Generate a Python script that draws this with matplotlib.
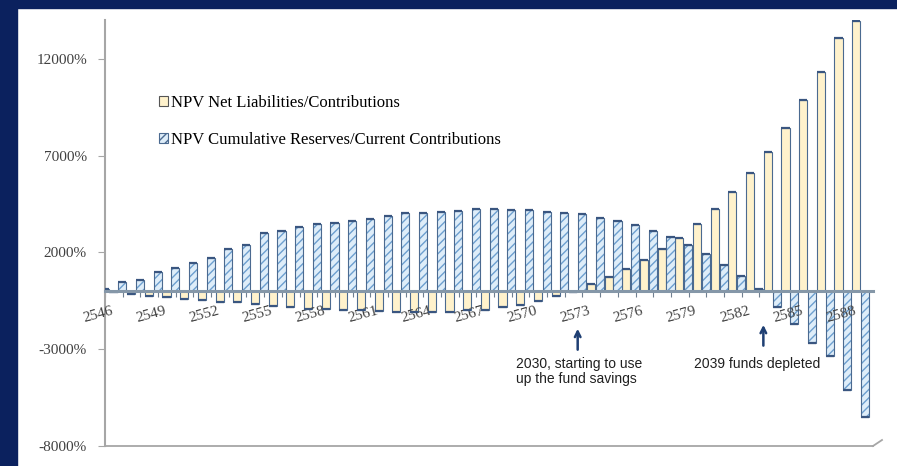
import numpy as np
import matplotlib
matplotlib.use("Agg")
import matplotlib.pyplot as plt
from matplotlib.patches import Patch, Rectangle
from matplotlib.lines import Line2D

# Thai Buddhist-era years, 2546 .. 2589
years = list(range(2546, 2590))

# NPV net liabilities / contributions (%)
net_liabilities = [
    -20, -50, -140, -230, -320, -400, -440, -540, -580, -660,
    -750, -830, -950, -920, -1000, -1000, -1050, -1090, -1090, -1060,
    -1080, -1000, -970, -800, -700, -490, -230, -30, 370, 710,
    1160, 1620, 2170, 2720, 3490, 4230, 5130, 6110, 7170, 8430,
    9850, 11330, 13050, 13950,
]

# NPV cumulative reserves / current contributions (%)
cum_reserves = [
    100, 450, 590, 1000, 1200, 1450, 1710, 2170, 2400, 3000,
    3120, 3290, 3460, 3510, 3620, 3740, 3880, 4010, 4010, 4100,
    4150, 4220, 4250, 4190, 4170, 4110, 4050, 3960, 3750, 3600,
    3410, 3120, 2770, 2380, 1920, 1370, 760, 100, -800, -1690,
    -2690, -3330, -5130, -6500,
]

label_years = years[::3]
y_ticks = [-8000, -3000, 2000, 7000, 12000]

NAVY = "#0b215e"
BEIGE = "#fff2cc"
LIGHT_BLUE = "#deedf9"
HATCH_BLUE = "#6d9fcf"
EDGE = "#4b6a90"
CAP = "#3a5680"
AXIS_GRAY = "#a6a6a6"
TEXT_GRAY = "#404040"
ARROW = "#1f3f73"
SERIF = "Liberation Serif"
SANS = "Liberation Sans"

W, H = 897, 466
fig = plt.figure(figsize=(W / 100, H / 100), dpi=100)
fig.patch.set_facecolor("white")

# dark slide frame on top and left
fig.add_artist(Rectangle((0, 1 - 8 / H), 1, 8 / H, transform=fig.transFigure,
                         color=NAVY, zorder=0))
fig.add_artist(Rectangle((0, 0), 17 / W, 1, transform=fig.transFigure,
                         color=NAVY, zorder=0))

ax = fig.add_axes([105 / W, 1 - 446 / H, (873 - 105) / W, (446 - 20) / H])
ax.set_facecolor("none")

x = np.arange(len(years))
w = 0.46
nl = np.array(net_liabilities)
cr = np.array(cum_reserves)

ax.bar(x - 0.25, nl, w, color=BEIGE, edgecolor=EDGE, lw=0.8, zorder=2)
ax.bar(x + 0.25, cr, w, color=LIGHT_BLUE, edgecolor=HATCH_BLUE,
       hatch="////", lw=0, zorder=2)
ax.bar(x + 0.25, cr, w, fill=False, edgecolor=EDGE, lw=0.8, zorder=3)

# cylinder caps
ax.hlines(nl, x - 0.25 - w / 2, x - 0.25 + w / 2, color=CAP, lw=1.6, zorder=4)
ax.hlines(cr, x + 0.25 - w / 2, x + 0.25 + w / 2, color=CAP, lw=1.6, zorder=4)

ax.set_xlim(0.37, 43.7)
ax.set_ylim(-8000, 14000)

for s in ("top", "right"):
    ax.spines[s].set_visible(False)
ax.spines["left"].set_color(AXIS_GRAY)
ax.spines["left"].set_linewidth(1.5)
ax.spines["bottom"].set_position(("data", 0))
ax.spines["bottom"].set_color("#8597a8")
ax.spines["bottom"].set_linewidth(2.2)
ax.spines["bottom"].set_zorder(5)
ax.axhline(-8000, color=AXIS_GRAY, lw=1.3, clip_on=False)
fig.add_artist(Line2D([873 / W, 882 / W], [1 - 446 / H, 1 - 440 / H],
                      transform=fig.transFigure, color=AXIS_GRAY, lw=1.3))

ax.set_xticks(x + 0.27)
ax.set_xticklabels([])
ax.tick_params(axis="x", direction="out", length=4, color="#6f7f90", width=0.8)

ax.set_yticks(y_ticks)
ax.set_yticklabels([f"{v}%" for v in y_ticks], fontfamily=SERIF)
ax.tick_params(axis="y", length=5, pad=8, labelsize=11,
               labelcolor=TEXT_GRAY, color=AXIS_GRAY)

for yr in label_years:
    ax.text(yr - years[0] - 0.12, -1200, str(yr), rotation=15,
            ha="center", va="center", fontsize=11, family=SERIF,
            color=TEXT_GRAY, clip_on=False)

# annotations under the axis
ax.annotate("", xy=(27.0, -1800), xytext=(27.0, -3170),
            arrowprops=dict(arrowstyle="->", lw=1.8, color=ARROW))
ax.text(23.5, -4150, "2030, starting to use\nup the fund savings",
        ha="left", va="center", fontsize=10, family=SANS, color="#202020",
        linespacing=1.15)
ax.annotate("", xy=(37.5, -1600), xytext=(37.5, -2960),
            arrowprops=dict(arrowstyle="->", lw=1.8, color=ARROW))
ax.text(33.55, -3790, "2039 funds depleted", ha="left", va="center",
        fontsize=10, family=SANS, color="#202020")

handles = [
    Patch(facecolor=BEIGE, edgecolor="#555555", lw=0.8),
    Patch(facecolor=LIGHT_BLUE, edgecolor=EDGE, hatch="////", lw=0.8),
]
labels = ["NPV Net Liabilities/Contributions",
          "NPV Cumulative Reserves/Current Contributions"]
ax.legend(handles, labels, loc="upper left",
          bbox_to_anchor=(159 / W, 1 - 95 / H), bbox_transform=fig.transFigure,
          frameon=False, prop={"family": SERIF, "size": 12},
          handlelength=0.55, handleheight=0.55, handletextpad=0.15,
          labelspacing=1.28, borderpad=0, borderaxespad=0)

fig.savefig("out.png", dpi=100)
